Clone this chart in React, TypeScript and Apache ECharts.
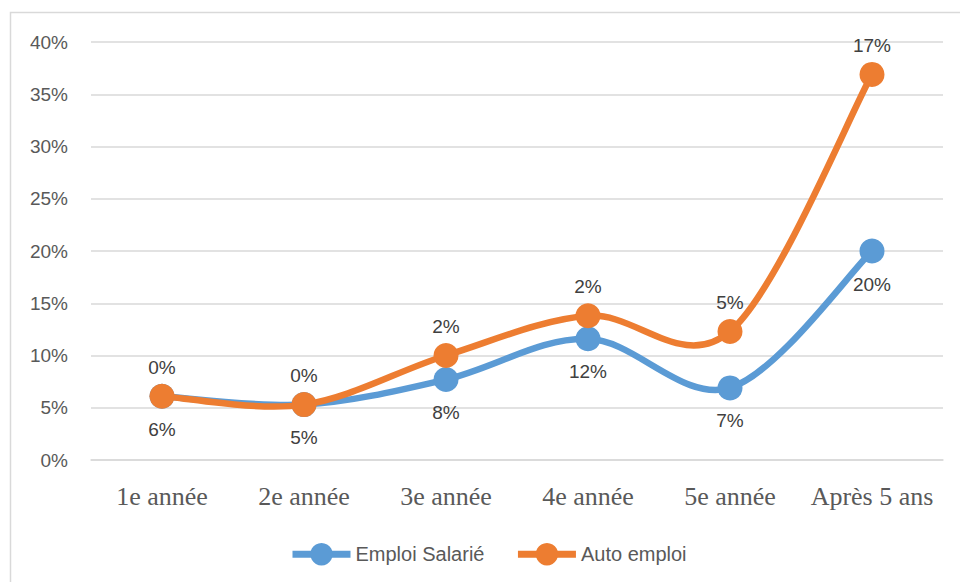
import React, { useEffect, useRef } from "react";
import * as echarts from "echarts";

const categories = ["1e année", "2e année", "3e année", "4e année", "5e année", "Après 5 ans"];
const emploiSalarie = [6.1, 5.3, 7.7, 11.6, 6.9, 20.0];
const autoEmploiIncrement = [0.0, 0.0, 2.3, 2.2, 5.4, 16.9];
const yTicks = { min: 0, max: 40, interval: 5 };

const BLUE = "#5B9BD5";
const ORANGE = "#ED7D31";
const SANS = '"Liberation Sans", "Noto Sans", sans-serif';
const LINE_W = 6.5;

// Excel-style smoothed curve (Catmull-Rom, tension 1/6) drawn through the axis scales
const makeCurve = (vals: number[], color: string) => (params: any, api: any) => {
  if (params.dataIndex !== 0) return null;
  const pts = vals.map((v, i) => api.coord([i, v]));
  let d = `M${pts[0][0]},${pts[0][1]}`;
  for (let i = 0; i < pts.length - 1; i++) {
    const p0 = pts[Math.max(i - 1, 0)];
    const p1 = pts[i];
    const p2 = pts[i + 1];
    const p3 = pts[Math.min(i + 2, pts.length - 1)];
    const c1x = p1[0] + (p2[0] - p0[0]) / 6;
    const c1y = p1[1] + (p2[1] - p0[1]) / 6;
    const c2x = p2[0] - (p3[0] - p1[0]) / 6;
    const c2y = p2[1] - (p3[1] - p1[1]) / 6;
    d += ` C${c1x},${c1y} ${c2x},${c2y} ${p2[0]},${p2[1]}`;
  }
  return {
    type: "path",
    shape: { pathData: d },
    style: { fill: "none", stroke: color, lineWidth: LINE_W, lineCap: "round", lineJoin: "round" },
    silent: true,
  };
};

export default function App() {
  const ref = useRef<HTMLDivElement>(null);
  useEffect(() => {
    if (!ref.current) return;
    const chart = echarts.init(ref.current, null, { renderer: "svg" });
    const fmt = (p: any) => Math.round(p.value) + "%";
    const autoCumulative = autoEmploiIncrement.map((v, i) => v + emploiSalarie[i]);
    chart.setOption({
      animation: false,
      backgroundColor: "#ffffff",
      graphic: [
        {
          type: "rect",
          shape: { x: 10.5, y: 12.5, width: 970, height: 600 },
          style: { fill: "none", stroke: "#d9d9d9", lineWidth: 1.5 },
          silent: true,
        },
      ],
      grid: { left: 91, right: 17, top: 42, bottom: 122 },
      legend: {
        left: 284,
        top: 538,
        itemWidth: 58,
        itemHeight: 28,
        itemGap: 30,
        lineStyle: { width: 7, opacity: 1 },
        textStyle: { fontFamily: SANS, fontSize: 20, color: "#595959" },
        data: ["Emploi Salarié", "Auto emploi"],
      },
      xAxis: {
        type: "category",
        data: categories,
        boundaryGap: true,
        axisLine: { lineStyle: { color: "#d9d9d9", width: 1.5 } },
        axisTick: { show: false },
        axisLabel: {
          interval: 0,
          fontFamily: '"Liberation Serif", "DejaVu Serif", serif',
          fontSize: 26,
          color: "#595959",
          margin: 23,
        },
      },
      yAxis: {
        type: "value",
        min: yTicks.min,
        max: yTicks.max,
        interval: yTicks.interval,
        axisLine: { show: false },
        axisTick: { show: false },
        splitLine: { lineStyle: { color: "#d9d9d9", width: 1.5 } },
        axisLabel: {
          formatter: "{value}%",
          fontFamily: SANS,
          fontSize: 19,
          color: "#595959",
          margin: 23,
        },
      },
      series: [
        {
          name: "Emploi Salarié (courbe)",
          type: "custom",
          coordinateSystem: "cartesian2d",
          data: emploiSalarie.map((v, i) => [i, v]),
          encode: { x: 0, y: 1 },
          renderItem: makeCurve(emploiSalarie, BLUE),
          clip: false,
          z: 1,
        },
        {
          name: "Emploi Salarié",
          type: "line",
          stack: "total",
          data: emploiSalarie,
          symbol: "circle",
          symbolSize: 25,
          lineStyle: { color: BLUE, width: LINE_W, opacity: 0 },
          itemStyle: { color: BLUE },
          label: {
            show: true,
            position: "bottom",
            distance: 11,
            formatter: fmt,
            fontFamily: SANS,
            fontSize: 19,
            color: "#404040",
          },
          z: 2,
        },
        {
          name: "Auto emploi (courbe)",
          type: "custom",
          coordinateSystem: "cartesian2d",
          data: autoCumulative.map((v, i) => [i, v]),
          encode: { x: 0, y: 1 },
          renderItem: makeCurve(autoCumulative, ORANGE),
          clip: false,
          z: 3,
        },
        {
          name: "Auto emploi",
          type: "line",
          stack: "total",
          data: autoEmploiIncrement,
          symbol: "circle",
          symbolSize: 25,
          lineStyle: { color: ORANGE, width: LINE_W, opacity: 0 },
          itemStyle: { color: ORANGE },
          label: {
            show: true,
            position: "top",
            distance: 7,
            formatter: fmt,
            fontFamily: SANS,
            fontSize: 19,
            color: "#404040",
          },
          z: 4,
        },
      ],
    });
    return () => chart.dispose();
  }, []);
  return (
    <div
      ref={ref}
      style={{ position: "fixed", left: 0, top: 0, width: 960, height: 582 }}
    />
  );
}
